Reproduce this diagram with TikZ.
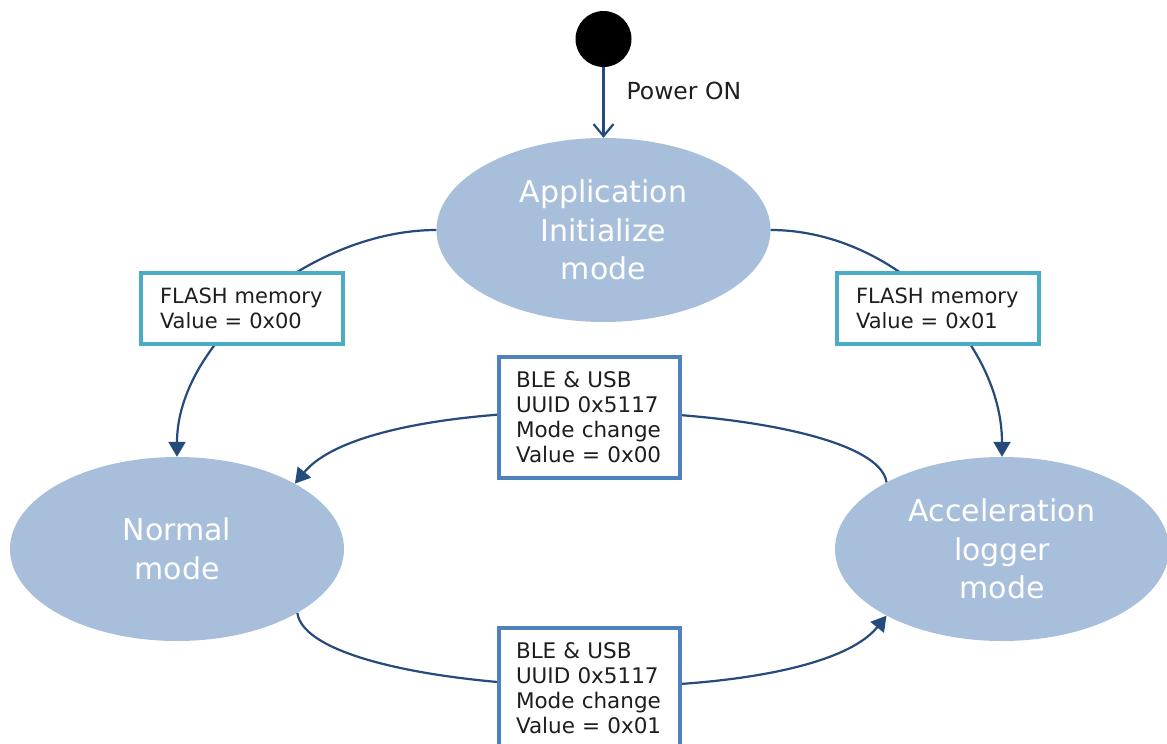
\documentclass[tikz,border=0pt]{standalone}
\usepackage{fontspec}
\setmainfont{DejaVu Sans}
\usetikzlibrary{arrows.meta,shapes.geometric}
\definecolor{statefill}{RGB}{168,191,220}
\definecolor{linkblue}{RGB}{37,74,123}
\definecolor{flashedge}{RGB}{75,172,198}
\definecolor{bleedge}{RGB}{79,129,189}
\definecolor{labeltext}{RGB}{30,30,30}
\begin{document}
\begin{tikzpicture}[x=1pt,y=-1pt,
  state/.style={ellipse, fill=statefill, draw=none, minimum width=334pt,
    minimum height=184pt, inner sep=0pt, text=white, align=center,
    font=\fontsize{30}{38.5}\selectfont},
  initdot/.style={circle, fill=black, minimum size=56pt, inner sep=0pt},
  flashbox/.style={draw=flashedge, line width=4pt, fill=white, align=left,
    text width=164pt, inner xsep=19pt, inner ysep=0pt, minimum height=71pt,
    font=\fontsize{21}{25.5}\selectfont, text=labeltext},
  blebox/.style={draw=bleedge, line width=4pt, fill=white, align=left,
    text width=147pt, inner xsep=17pt, inner ysep=0pt, minimum height=121pt,
    font=\fontsize{21.5}{25}\selectfont, text=labeltext},
  link/.style={draw=linkblue, line width=2.2pt, -{Triangle[length=15pt,width=17pt]}},
  poweron/.style={draw=linkblue, line width=2.2pt, -{Straight Barb[length=12pt,width=20pt]}}
]
\useasboundingbox (0,0) rectangle (1167,744);
\clip (0,0) rectangle (1167,744);

% states
\node[state] (init)   at (603.5,230) {Application\\Initialize\\mode};
\node[state] (normal) at (177,549)   {Normal\\mode};
\node[state] (acc)    at (1002,549)  {Acceleration\\logger\\mode};

% initial pseudo-state
\node[initdot] (start) at (603.5,39) {};
\node[anchor=base west, font=\fontsize{23.5}{28}\selectfont, text=labeltext]
  (pwr) at (623,99) {Power ON};
\draw[poweron] (start) -- (init);

% transitions
\draw[link] (init.west) .. controls +(-125,0) and +(0,-115) .. (normal.north);
\draw[link] (init.east) .. controls +(122,0) and +(0,-115) .. (acc.north);
\draw[link] (acc.150) .. controls (875,400) and (380,380) .. (normal.29);
\draw[link] (normal.-28) .. controls (309,698) and (804,718) .. (acc.-150);

% guard labels
\node[flashbox] (flash0) at (242,308.5) {FLASH memory\\Value = 0x00};
\node[flashbox] (flash1) at (938,308.5) {FLASH memory\\Value = 0x01};
\node[blebox] (ble0) at (589.5,417.5) {BLE \& USB\\UUID 0x5117\\Mode change\\Value = 0x00};
\node[blebox] (ble1) at (589.5,688.5) {BLE \& USB\\UUID 0x5117\\Mode change\\Value = 0x01};
\end{tikzpicture}
\end{document}
